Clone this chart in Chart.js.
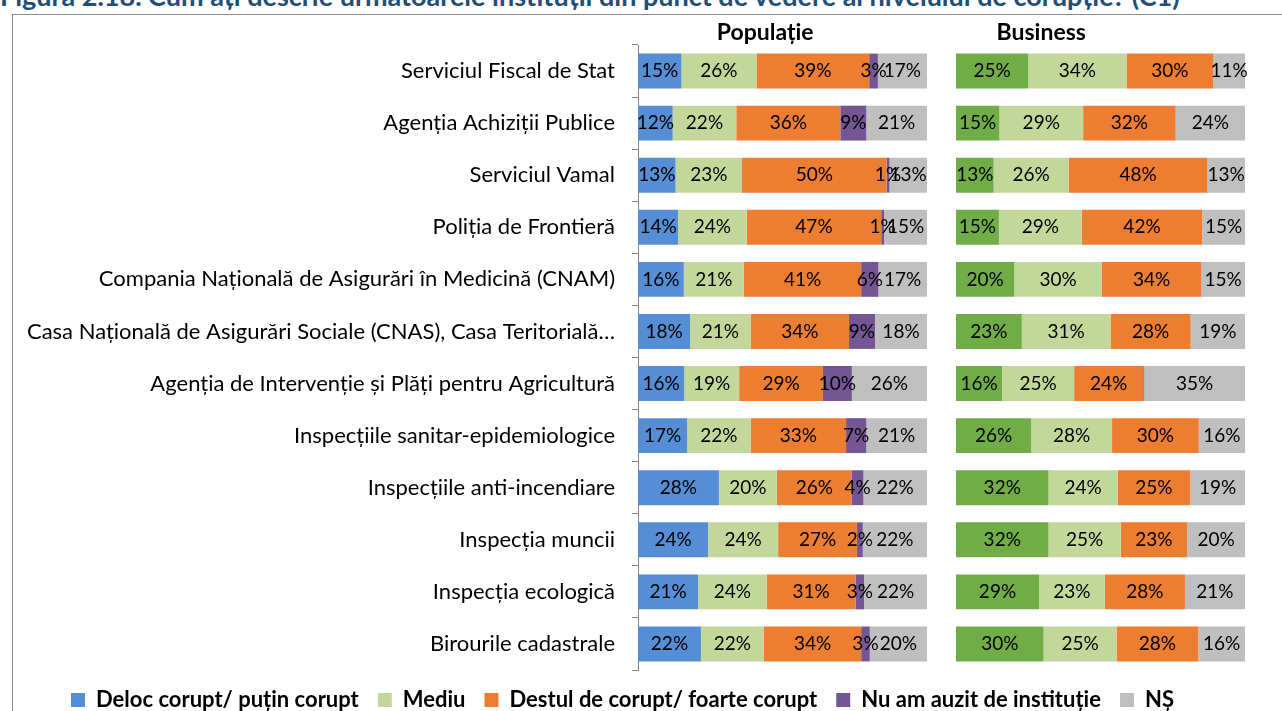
<!DOCTYPE html>
<html>
<head>
<meta charset="utf-8">
<script src="https://cdn.jsdelivr.net/npm/chart.js@4.4.1/dist/chart.umd.min.js"></script>
<style>
    html, body { margin: 0; padding: 0; width: 1282px; height: 711px; overflow: hidden; background: #fff; }
    #title { position: absolute; left: 0; top: -18px; font: bold 27px Lato; line-height: 27px; color: #1f4e79; white-space: nowrap; }
    #frame { position: absolute; left: 12px; top: 14px; width: 1400px; height: 800px; border: 1px solid #8c8c8c; }
    #wrap { position: absolute; left: 0; top: 0; width: 1282px; height: 711px; }
</style>
</head>
<body>
<div id="title">Figura 2.18. Cum ați descrie următoarele instituții din punct de vedere al nivelului de corupție? (C1)</div>
<div id="frame"></div>
<div id="wrap"><canvas id="chart"></canvas></div>
<script>
let institutions = [
    'Serviciul Fiscal de Stat',
    'Agenția Achiziții Publice',
    'Serviciul Vamal',
    'Poliția de Frontieră',
    'Compania Națională de Asigurări în Medicină (CNAM)',
    'Casa Națională de Asigurări Sociale (CNAS), Casa Teritorială…',
    'Agenția de Intervenție și Plăți pentru Agricultură',
    'Inspecțiile sanitar-epidemiologice',
    'Inspecțiile anti-incendiare',
    'Inspecția muncii',
    'Inspecția ecologică',
    'Birourile cadastrale'
];

let seriesNames = ['Deloc corupt/ puțin corupt', 'Mediu', 'Destul de corupt/ foarte corupt', 'Nu am auzit de instituție', 'NȘ'];

// Populație
let popDeloc   = [15, 12, 13, 14, 16, 18, 16, 17, 28, 24, 21, 22];
let popMediu   = [26, 22, 23, 24, 21, 21, 19, 22, 20, 24, 24, 22];
let popDestul  = [39, 36, 50, 47, 41, 34, 29, 33, 26, 27, 31, 34];
let popNuAuzit = [3, 9, 1, 1, 6, 9, 10, 7, 4, 2, 3, 3];
let popNS      = [17, 21, 13, 15, 17, 18, 26, 21, 22, 22, 22, 20];

// Business
let bizDeloc   = [25, 15, 13, 15, 20, 23, 16, 26, 32, 32, 29, 30];
let bizMediu   = [34, 29, 26, 29, 30, 31, 25, 28, 24, 25, 23, 25];
let bizDestul  = [30, 32, 48, 42, 34, 28, 24, 30, 25, 23, 28, 28];
let bizNuAuzit = [0, 0, 0, 0, 0, 0, 0.3, 0, 0, 0, 0, 0];
let bizNS      = [11, 24, 13, 15, 15, 19, 35, 16, 19, 20, 21, 16];

let popColors = ['#558ed5', '#c4d79b', '#ed7d31', '#735693', '#bfbfbf'];
let bizColors = ['#70ad47', '#c4d79b', '#ed7d31', '#735693', '#bfbfbf'];

// 100% stacked, like the Excel original
function toShare(groups){
    let totals = institutions.map((_, i) => groups.reduce((s, g) => s + g[i], 0));
    return groups.map(g => g.map((v, i) => v / totals[i] * 100));
}

function makeDatasets(groups, colors, axisId, legendOn){
    let shares = toShare(groups);
    return groups.map((g, k) => ({
        label: seriesNames[k],
        data: shares[k],
        shown: g,
        inLegend: legendOn,
        xAxisID: axisId,
        backgroundColor: colors[k],
        borderWidth: 0,
        grouped: false,
        categoryPercentage: 1,
        barPercentage: 0.67
    }));
}

let datasets = makeDatasets([popDeloc, popMediu, popDestul, popNuAuzit, popNS], popColors, 'xPop', true)
    .concat(makeDatasets([bizDeloc, bizMediu, bizDestul, bizNuAuzit, bizNS], bizColors, 'xBiz', false));

const valueLabels = {
    id: 'valueLabels',
    afterDatasetsDraw(chart){
        let ctx = chart.ctx;
        ctx.save();
        ctx.font = '19px Lato';
        ctx.fillStyle = '#000';
        ctx.textAlign = 'center';
        ctx.textBaseline = 'middle';
        chart.data.datasets.forEach((ds, i) => {
            chart.getDatasetMeta(i).data.forEach((bar, j) => {
                let v = ds.shown[j];
                if (v < 1) return;
                let p = bar.getCenterPoint();
                ctx.fillText(v + '%', p.x, p.y);
            });
        });
        ctx.restore();
    }
};

// panel headings, placed like the text boxes of the original (not centred)
const panelHeaders = {
    id: 'panelHeaders',
    afterDraw(chart){
        let ctx = chart.ctx;
        let items = [['Populație', 'xPop', 0.44], ['Business', 'xBiz', 0.295]];
        ctx.save();
        ctx.font = 'bold 23px Lato';
        ctx.fillStyle = '#000';
        ctx.textAlign = 'center';
        ctx.textBaseline = 'middle';
        items.forEach(([text, id, at]) => {
            let s = chart.scales[id];
            ctx.fillText(text, s.left + s.width * at, 33);
        });
        ctx.restore();
    }
};

function panelAxis(weight, stackWeight){
    return {
        type: 'linear',
        position: 'top',
        stack: 'panels',
        stackWeight: stackWeight,
        weight: weight,
        min: 0,
        max: 100,
        stacked: true,
        display: false
    };
}

new Chart(document.getElementById('chart'), {
    type: 'bar',
    data: {labels: institutions, datasets: datasets},
    plugins: [valueLabels, panelHeaders],
    options: {
        indexAxis: 'y',
        responsive: true,
        maintainAspectRatio: false,
        animation: false,
        layout: {padding: {top: 45, right: 37, bottom: 0, left: 0}},
        scales: {
            y: {
                type: 'category',
                position: 'left',
                afterFit: function(scale){ scale.width = 638; },
                ticks: {color: '#000', font: {family: 'Lato', size: 22}, padding: 17, autoSkip: false},
                grid: {drawOnChartArea: false, tickLength: 6, color: '#868686', offset: true},
                border: {color: '#868686'}
            },
            xPop: panelAxis(3, 289),
            xGap: panelAxis(2, 29),
            xBiz: panelAxis(1, 289)
        },
        plugins: {
            tooltip: {enabled: false},
            legend: {
                position: 'bottom',
                maxHeight: 41,
                labels: {
                    filter: function(item, data){ return data.datasets[item.datasetIndex].inLegend; },
                    boxWidth: 14,
                    boxHeight: 14,
                    padding: 19,
                    color: '#000',
                    font: {family: 'Lato', size: 22, weight: 'bold'}
                }
            }
        }
    }
});
</script>
</body>
</html>
